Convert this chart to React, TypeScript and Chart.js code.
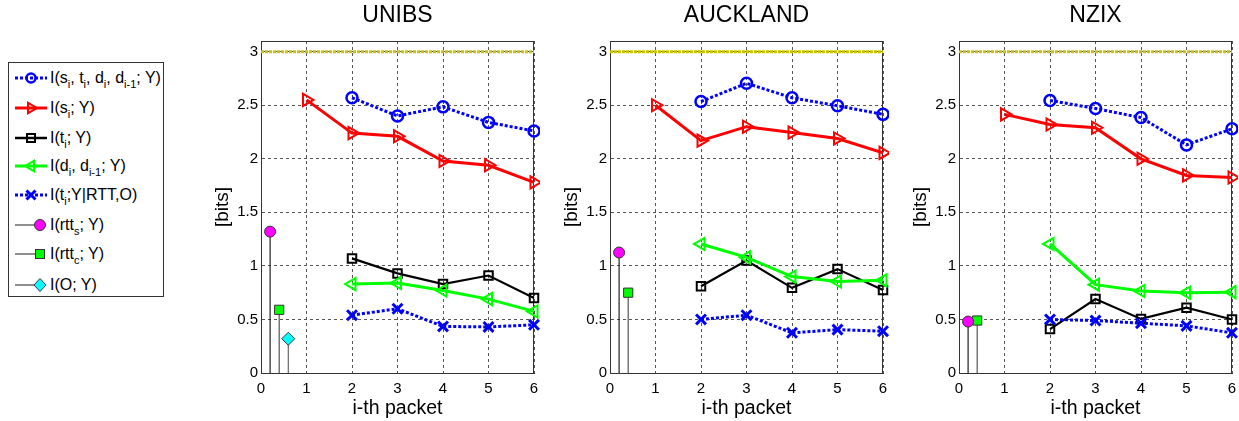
import React, { useEffect, useRef } from "react";
import { Chart, registerables } from "chart.js";

Chart.register(...registerables);

const FONT = "'Liberation Sans', Arial, Helvetica, sans-serif";

// ---------- axes ----------
const xTickValues = [0, 1, 2, 3, 4, 5, 6];
const xTickLabels = ["0", "1", "2", "3", "4", "5", "6"];
const yTickValues = [0, 0.5, 1, 1.5, 2, 2.5, 3];
const yTickLabels = ["0", "0.5", "1", "1.5", "2", "2.5", "3"];

// ---------- x positions ----------
const packetsAll = [1, 2, 3, 4, 5, 6];
const packetsFrom2 = [2, 3, 4, 5, 6];
const stemPositions = [0.2, 0.4, 0.6];
const boundX = [0, 6];
const boundY = [3, 3];

// ---------- titles ----------
const traceNames = ["UNIBS", "AUCKLAND", "NZIX"];

// ---------- UNIBS ----------
const unibsJoint = [2.57, 2.4, 2.485, 2.34, 2.26];
const unibsS = [2.55, 2.24, 2.21, 1.98, 1.94, 1.78];
const unibsT = [1.07, 0.93, 0.83, 0.91, 0.7];
const unibsD = [0.83, 0.84, 0.77, 0.69, 0.575];
const unibsTcond = [0.54, 0.6, 0.435, 0.43, 0.45];
const unibsStems = [1.32, 0.59, 0.32];

// ---------- AUCKLAND ----------
const aucklandJoint = [2.535, 2.705, 2.57, 2.495, 2.415];
const aucklandS = [2.5, 2.17, 2.3, 2.245, 2.19, 2.055];
const aucklandT = [0.81, 1.05, 0.795, 0.97, 0.775];
const aucklandD = [1.205, 1.08, 0.9, 0.855, 0.865];
const aucklandTcond = [0.5, 0.54, 0.375, 0.405, 0.39];
const aucklandStems = [1.125, 0.75];

// ---------- NZIX ----------
const nzixJoint = [2.545, 2.47, 2.385, 2.13, 2.28];
const nzixS = [2.415, 2.32, 2.29, 2.0, 1.845, 1.825];
const nzixT = [0.41, 0.69, 0.505, 0.61, 0.5];
const nzixD = [1.205, 0.825, 0.765, 0.75, 0.755];
const nzixTcond = [0.5, 0.49, 0.465, 0.44, 0.375];
const nzixStems = [0.48, 0.49];

type Spec = {
  title: string;
  joint: number[];
  s: number[];
  t: number[];
  d: number[];
  tcond: number[];
  stems: number[];
};

const specs: Spec[] = [
  { title: traceNames[0], joint: unibsJoint, s: unibsS, t: unibsT, d: unibsD, tcond: unibsTcond, stems: unibsStems },
  { title: traceNames[1], joint: aucklandJoint, s: aucklandS, t: aucklandT, d: aucklandD, tcond: aucklandTcond, stems: aucklandStems },
  { title: traceNames[2], joint: nzixJoint, s: nzixS, t: nzixT, d: nzixD, tcond: nzixTcond, stems: nzixStems },
];

const BLUE = "#0000ff";
const RED = "#ff0000";
const BLACK = "#000000";
const GREEN = "#00ff00";
const MAGENTA = "#ff00ff";
const CYAN = "#00ffff";
const YELLOW = "#c8c400";
const STEM = "#444444";

const stemStyles = [
  { pointStyle: "circle", radius: 5.5, fill: MAGENTA, line: "#222222" },
  { pointStyle: "rect", radius: 6.5, fill: GREEN, line: "#555555" },
  { pointStyle: "rectRot", radius: 6.5, fill: CYAN, line: "#666666" },
];

const pts = (xs: number[], ys: number[]) => xs.map((x, i) => ({ x, y: ys[i] }));

const framePlugin = {
  id: "frame",
  beforeDatasetsDraw(chart: any) {
    const { ctx, chartArea } = chart;
    const { left, top, right, bottom } = chartArea;
    ctx.save();
    ctx.strokeStyle = "#333333";
    ctx.lineWidth = 1;
    ctx.setLineDash([]);
    ctx.strokeRect(Math.round(left) + 0.5, Math.round(top) + 0.5, Math.round(right - left) - 1, Math.round(bottom - top));
    ctx.restore();
  },
};

function buildConfig(spec: Spec): any {
  const common = { clip: false, fill: false, tension: 0, pointHoverRadius: 0 };
  const datasets: any[] = [];
  datasets.push({
    ...common,
    label: "bound",
    data: pts(boundX, boundY),
    borderColor: YELLOW,
    borderWidth: 3,
    borderDash: [3, 1],
    pointRadius: 0,
    order: 10,
  });
  spec.stems.forEach((v, i) => {
    const st = stemStyles[i];
    datasets.push({
      ...common,
      label: "stem" + i,
      data: pts([stemPositions[i], stemPositions[i]], [0, v]),
      borderColor: st.line,
      borderWidth: 1.2,
      pointRadius: [0, st.radius],
      pointStyle: st.pointStyle,
      pointBackgroundColor: st.fill,
      pointBorderColor: "#333333",
      pointBorderWidth: 1,
      order: 9,
    });
  });
  datasets.push({
    ...common,
    label: "joint",
    data: pts(packetsFrom2, spec.joint),
    borderColor: BLUE,
    borderWidth: 3,
    borderDash: [3, 2],
    pointStyle: "circle",
    pointRadius: 5.5,
    pointBorderWidth: 2.5,
    pointBorderColor: BLUE,
    pointBackgroundColor: "rgba(0,0,0,0)",
    order: 5,
  });
  datasets.push({
    ...common,
    label: "s",
    data: pts(packetsAll, spec.s),
    borderColor: RED,
    borderWidth: 3,
    pointStyle: "triangle",
    rotation: 90,
    pointRadius: 7,
    pointBorderWidth: 2,
    pointBorderColor: RED,
    pointBackgroundColor: "rgba(0,0,0,0)",
    order: 4,
  });
  datasets.push({
    ...common,
    label: "t",
    data: pts(packetsFrom2, spec.t),
    borderColor: BLACK,
    borderWidth: 2.2,
    pointStyle: "rect",
    pointRadius: 6,
    pointBorderWidth: 2,
    pointBorderColor: BLACK,
    pointBackgroundColor: "rgba(0,0,0,0)",
    order: 3,
  });
  datasets.push({
    ...common,
    label: "d",
    data: pts(packetsFrom2, spec.d),
    borderColor: GREEN,
    borderWidth: 3,
    pointStyle: "triangle",
    rotation: -90,
    pointRadius: 7,
    pointBorderWidth: 2,
    pointBorderColor: GREEN,
    pointBackgroundColor: "rgba(0,0,0,0)",
    order: 2,
  });
  datasets.push({
    ...common,
    label: "tcond",
    data: pts(packetsFrom2, spec.tcond),
    borderColor: BLUE,
    borderWidth: 3,
    borderDash: [3, 2],
    pointStyle: "crossRot",
    pointRadius: 7,
    pointBorderWidth: 3,
    pointBorderColor: BLUE,
    order: 1,
  });

  const tickFont = { family: FONT, size: 15 };
  const grid = { color: "#555555", lineWidth: 1, drawTicks: false };
  const border = { color: "#333333", dash: [3, 3] };

  return {
    type: "line",
    data: { datasets },
    options: {
      animation: false,
      responsive: false,
      devicePixelRatio: 1,
      events: [],
      layout: { padding: 0, autoPadding: false },
      plugins: {
        legend: { display: false },
        tooltip: { enabled: false },
        title: {
          display: true,
          text: spec.title,
          fullSize: false,
          color: "#000000",
          font: { family: FONT, size: 23, weight: "normal" },
          padding: { top: 2, bottom: 11.4 },
        },
      },
      scales: {
        x: {
          type: "linear",
          min: 0,
          max: 6,
          afterBuildTicks: (scale: any) => {
            scale.ticks = xTickValues.map((v) => ({ value: v }));
          },
          afterFit: (scale: any) => {
            scale.height = 48;
            scale.paddingRight = 6;
            scale.paddingLeft = 0;
          },
          ticks: {
            font: tickFont,
            color: "#000000",
            padding: 7,
            maxRotation: 0,
            autoSkip: false,
            callback: (_v: any, i: number) => xTickLabels[i],
          },
          grid,
          border,
          title: {
            display: true,
            text: "i-th packet",
            color: "#000000",
            font: { family: FONT, size: 19.5 },
            padding: { top: 0, bottom: 1 },
          },
        },
        y: {
          type: "linear",
          min: 0,
          max: 3.1,
          afterBuildTicks: (scale: any) => {
            scale.ticks = yTickValues.map((v) => ({ value: v }));
          },
          afterFit: (scale: any) => {
            scale.width = 70;
          },
          ticks: {
            font: tickFont,
            color: "#000000",
            padding: 3,
            autoSkip: false,
            callback: (_v: any, i: number) => yTickLabels[i],
          },
          grid,
          border,
          title: {
            display: true,
            text: "[bits]",
            color: "#000000",
            font: { family: FONT, size: 19 },
            padding: { top: 20, bottom: 0 },
          },
        },
      },
    },
    plugins: [framePlugin],
  };
}

function SubPlot({ spec, left }: { spec: Spec; left: number }) {
  const ref = useRef<HTMLCanvasElement | null>(null);
  useEffect(() => {
    if (!ref.current) return;
    const chart = new Chart(ref.current, buildConfig(spec));
    return () => chart.destroy();
  }, [spec]);
  return (
    <canvas
      ref={ref}
      width={349}
      height={421}
      style={{ position: "absolute", left, top: 0, width: 349, height: 421 }}
    />
  );
}

const Sub = ({ children }: { children: React.ReactNode }) => (
  <span style={{ fontSize: 11, position: "relative", top: 5 }}>{children}</span>
);

function Icon({ kind }: { kind: string }) {
  const w = 36;
  const h = 20;
  const cy = 10;
  let content: React.ReactNode = null;
  if (kind === "joint") {
    content = (
      <>
        <line x1={0} y1={cy} x2={32} y2={cy} stroke={BLUE} strokeWidth={3} strokeDasharray="3,2" />
        <circle cx={16} cy={cy} r={4.5} fill="none" stroke={BLUE} strokeWidth={2.5} />
      </>
    );
  } else if (kind === "s") {
    content = (
      <>
        <line x1={0} y1={cy} x2={32} y2={cy} stroke={RED} strokeWidth={3} />
        <polygon points="22,10 13,4.8 13,15.2" fill="none" stroke={RED} strokeWidth={2} />
      </>
    );
  } else if (kind === "t") {
    content = (
      <>
        <line x1={0} y1={cy} x2={32} y2={cy} stroke={BLACK} strokeWidth={2.5} />
        <rect x={12} y={6} width={8} height={8} fill="none" stroke={BLACK} strokeWidth={2} />
      </>
    );
  } else if (kind === "d") {
    content = (
      <>
        <line x1={0} y1={cy} x2={32} y2={cy} stroke={GREEN} strokeWidth={3} />
        <polygon points="10,10 19,4.8 19,15.2" fill="none" stroke={GREEN} strokeWidth={2} />
      </>
    );
  } else if (kind === "tcond") {
    content = (
      <>
        <line x1={0} y1={cy} x2={32} y2={cy} stroke={BLUE} strokeWidth={3} strokeDasharray="3,2" />
        <line x1={11.5} y1={5.5} x2={20.5} y2={14.5} stroke={BLUE} strokeWidth={3} />
        <line x1={11.5} y1={14.5} x2={20.5} y2={5.5} stroke={BLUE} strokeWidth={3} />
      </>
    );
  } else if (kind === "rtts") {
    content = (
      <>
        <line x1={0} y1={cy} x2={20} y2={cy} stroke={STEM} strokeWidth={1.2} />
        <circle cx={25} cy={cy} r={5.5} fill={MAGENTA} stroke="#333" strokeWidth={1} />
      </>
    );
  } else if (kind === "rttc") {
    content = (
      <>
        <line x1={0} y1={cy} x2={20} y2={cy} stroke={STEM} strokeWidth={1.2} />
        <rect x={20.5} y={5.5} width={9} height={9} fill={GREEN} stroke="#333" strokeWidth={1} />
      </>
    );
  } else if (kind === "o") {
    content = (
      <>
        <line x1={0} y1={cy} x2={20} y2={cy} stroke={STEM} strokeWidth={1.2} />
        <polygon points="25,3.5 31,10 25,16.5 19,10" fill={CYAN} stroke="#333" strokeWidth={1} />
      </>
    );
  }
  return (
    <svg width={w} height={h} style={{ position: "absolute", left: 6, top: 0 }}>
      {content}
    </svg>
  );
}

const legendRows: { kind: string; label: React.ReactNode }[] = [
  { kind: "joint", label: <>I(s<Sub>i</Sub>, t<Sub>i</Sub>, d<Sub>i</Sub>, d<Sub>i-1</Sub>; Y)</> },
  { kind: "s", label: <>I(s<Sub>i</Sub>; Y)</> },
  { kind: "t", label: <>I(t<Sub>i</Sub>; Y)</> },
  { kind: "d", label: <>I(d<Sub>i</Sub>, d<Sub>i-1</Sub>; Y)</> },
  { kind: "tcond", label: <>I(t<Sub>i</Sub>;Y|RTT,O)</> },
  { kind: "rtts", label: <>I(rtt<Sub>s</Sub>; Y)</> },
  { kind: "rttc", label: <>I(rtt<Sub>c</Sub>; Y)</> },
  { kind: "o", label: <>I(O; Y)</> },
];

const legendRowCenters = [14.7, 45.3, 74.7, 103, 132.3, 162.3, 191.3, 222];

function Legend() {
  return (
    <div
      style={{
        position: "absolute",
        left: 8,
        top: 62,
        width: 154,
        height: 233,
        border: "1px solid #333",
        background: "#fff",
        fontFamily: FONT,
        fontSize: 16,
        color: "#000",
      }}
    >
      {legendRows.map((r, i) => (
        <div
          key={i}
          style={{
            position: "absolute",
            left: 0,
            top: legendRowCenters[i] - 10,
            height: 20,
            width: 154,
          }}
        >
          <Icon kind={r.kind} />
          <span style={{ position: "absolute", left: 41, top: 0, lineHeight: "20px", whiteSpace: "nowrap" }}>
            {r.label}
          </span>
        </div>
      ))}
    </div>
  );
}

const plotLefts = [191, 540, 889];

export default function App() {
  return (
    <div
      style={{
        position: "absolute",
        left: 0,
        top: 0,
        width: 1239,
        height: 421,
        background: "#fff",
        overflow: "hidden",
      }}
    >
      <Legend />
      {specs.map((s, i) => (
        <SubPlot key={s.title} spec={s} left={plotLefts[i]} />
      ))}
    </div>
  );
}
